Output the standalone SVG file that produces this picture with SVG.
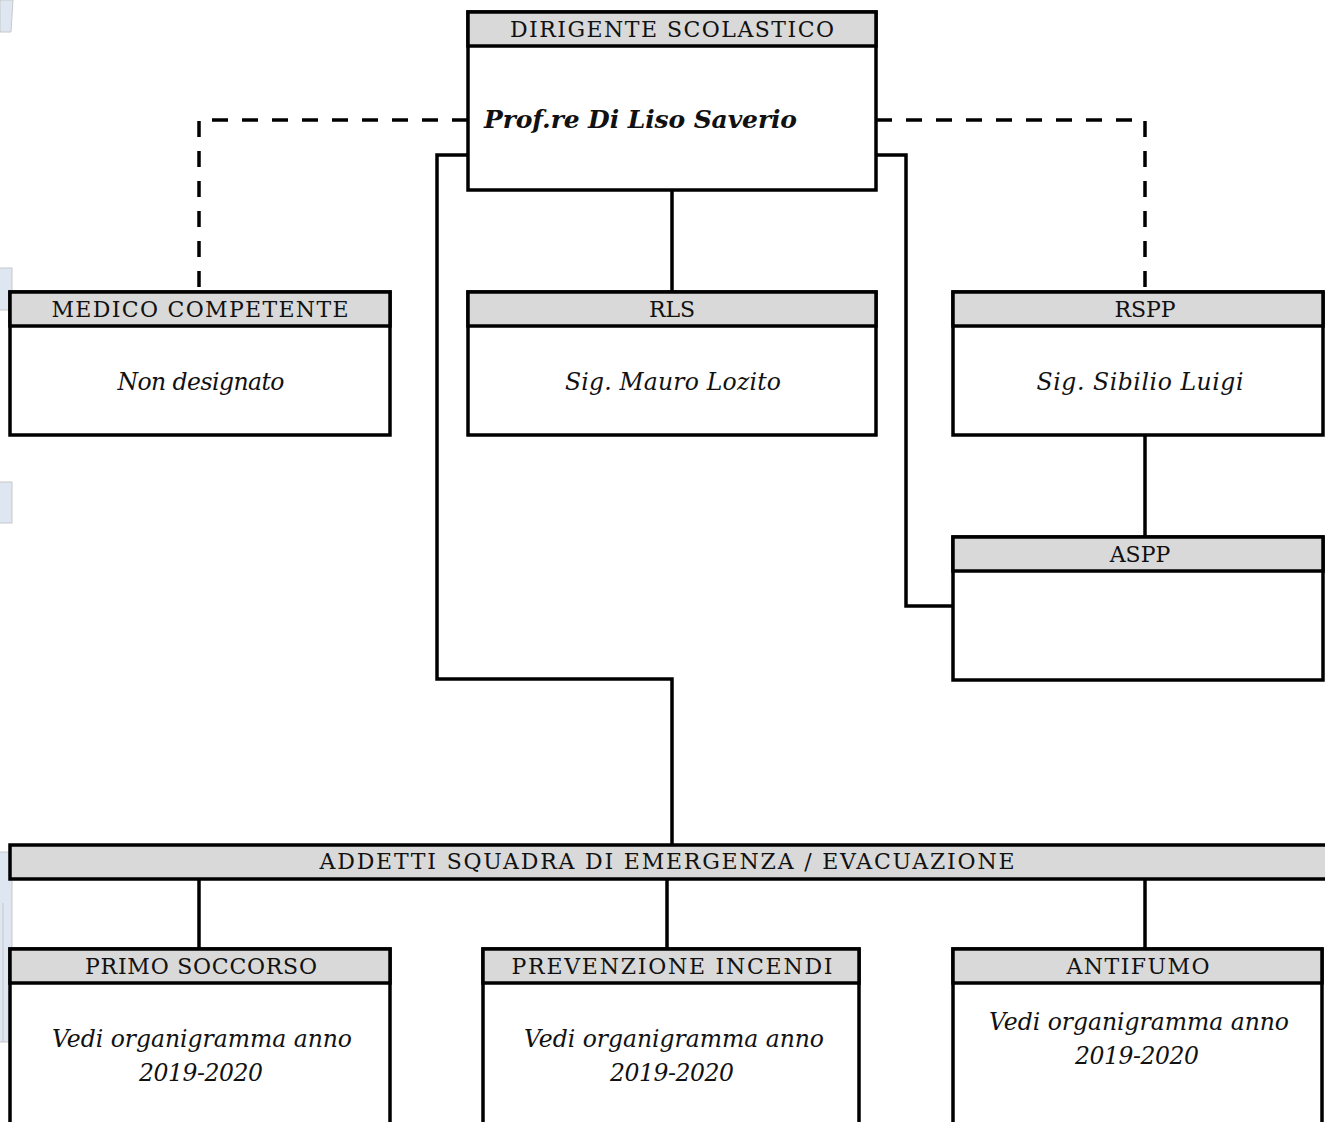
<svg xmlns="http://www.w3.org/2000/svg" width="1325" height="1122" viewBox="0 0 1325 1122">
<style>
.box{fill:#fff;stroke:#000;stroke-width:3.5}
.hd{fill:#d9d9d9;stroke:#000;stroke-width:3.5}
.ht{font-family:"DejaVu Serif",serif;font-size:22px;fill:#111;text-anchor:middle}
.bt{font-family:"DejaVu Serif",serif;font-size:23.5px;font-style:italic;fill:#111;text-anchor:middle}
.pt{font-family:"DejaVu Serif",serif;font-size:25px;font-weight:bold;font-style:italic;fill:#111}
.ln{fill:none;stroke:#000;stroke-width:3.5}
.dash{fill:none;stroke:#000;stroke-width:3.5;stroke-dasharray:16 14}
.art{fill:#dde6f1;stroke:#c8c8c8;stroke-width:1}
</style>
<rect width="1325" height="1122" fill="#fff"/>
<g id="artifacts">
<polygon class="art" points="0,0 13,0 11,32 0,32"/>
<rect class="art" x="-1" y="268" width="13" height="42"/>
<rect class="art" x="-1" y="482" width="13" height="41"/>
<rect class="art" x="-1" y="852" width="13" height="190"/>
<line x1="3" y1="903" x2="3" y2="1042" stroke="#c8c8c8" stroke-width="1"/>
</g>
<g id="connectors">
<polyline class="dash" points="468,120 199,120 199,292"/>
<polyline class="dash" points="876,120 1145,120 1145,292"/>
<line class="ln" x1="672" y1="190" x2="672" y2="292"/>
<polyline class="ln" points="468,155 437,155 437,679 672,679 672,845"/>
<polyline class="ln" points="876,155 906,155 906,606 953,606"/>
<line class="ln" x1="1145" y1="435" x2="1145" y2="537"/>
<line class="ln" x1="199" y1="879" x2="199" y2="949"/>
<line class="ln" x1="667" y1="879" x2="667" y2="949"/>
<line class="ln" x1="1145" y1="879" x2="1145" y2="949"/>
</g>
<g id="dirigente">
<rect class="box" x="468" y="12" width="408" height="178"/>
<rect class="hd" x="468" y="12" width="408" height="34"/>
<text class="ht" x="672" y="37" textLength="324">DIRIGENTE SCOLASTICO</text>
<text class="pt" x="484" y="128" textLength="313">Prof.re Di Liso Saverio</text>
</g>
<g id="medico">
<rect class="box" x="10" y="292" width="380" height="143"/>
<rect class="hd" x="10" y="292" width="380" height="34"/>
<text class="ht" x="200" y="317" textLength="297">MEDICO COMPETENTE</text>
<text class="bt" x="201" y="390" textLength="167">Non designato</text>
</g>
<g id="rls">
<rect class="box" x="468" y="292" width="408" height="143"/>
<rect class="hd" x="468" y="292" width="408" height="34"/>
<text class="ht" x="672" y="317">RLS</text>
<text class="bt" x="673" y="390" textLength="216">Sig. Mauro Lozito</text>
</g>
<g id="rspp">
<rect class="box" x="953" y="292" width="370" height="143"/>
<rect class="hd" x="953" y="292" width="370" height="34"/>
<text class="ht" x="1145" y="317">RSPP</text>
<text class="bt" x="1140" y="390" textLength="207">Sig. Sibilio Luigi</text>
</g>
<g id="aspp">
<rect class="box" x="953" y="537" width="370" height="143"/>
<rect class="hd" x="953" y="537" width="370" height="34"/>
<text class="ht" x="1140" y="562">ASPP</text>
</g>
<g id="addetti">
<rect class="hd" x="10" y="845" width="1318" height="34"/>
<text class="ht" x="667" y="869" textLength="695">ADDETTI SQUADRA DI EMERGENZA / EVACUAZIONE</text>
</g>
<g id="primo">
<rect class="box" x="10" y="949" width="380" height="190"/>
<rect class="hd" x="10" y="949" width="380" height="34"/>
<text class="ht" x="201" y="974" textLength="232">PRIMO SOCCORSO</text>
<text class="bt" x="202" y="1047" textLength="300">Vedi organigramma anno</text>
<text class="bt" x="201" y="1081" textLength="124">2019-2020</text>
</g>
<g id="prevenzione">
<rect class="box" x="483" y="949" width="376" height="190"/>
<rect class="hd" x="483" y="949" width="376" height="34"/>
<text class="ht" x="672" y="974" textLength="321">PREVENZIONE INCENDI</text>
<text class="bt" x="674" y="1047" textLength="300">Vedi organigramma anno</text>
<text class="bt" x="672" y="1081" textLength="124">2019-2020</text>
</g>
<g id="antifumo">
<rect class="box" x="953" y="949" width="369" height="190"/>
<rect class="hd" x="953" y="949" width="369" height="34"/>
<text class="ht" x="1138" y="974" textLength="143">ANTIFUMO</text>
<text class="bt" x="1139" y="1030" textLength="300">Vedi organigramma anno</text>
<text class="bt" x="1137" y="1064" textLength="124">2019-2020</text>
</g>
</svg>
